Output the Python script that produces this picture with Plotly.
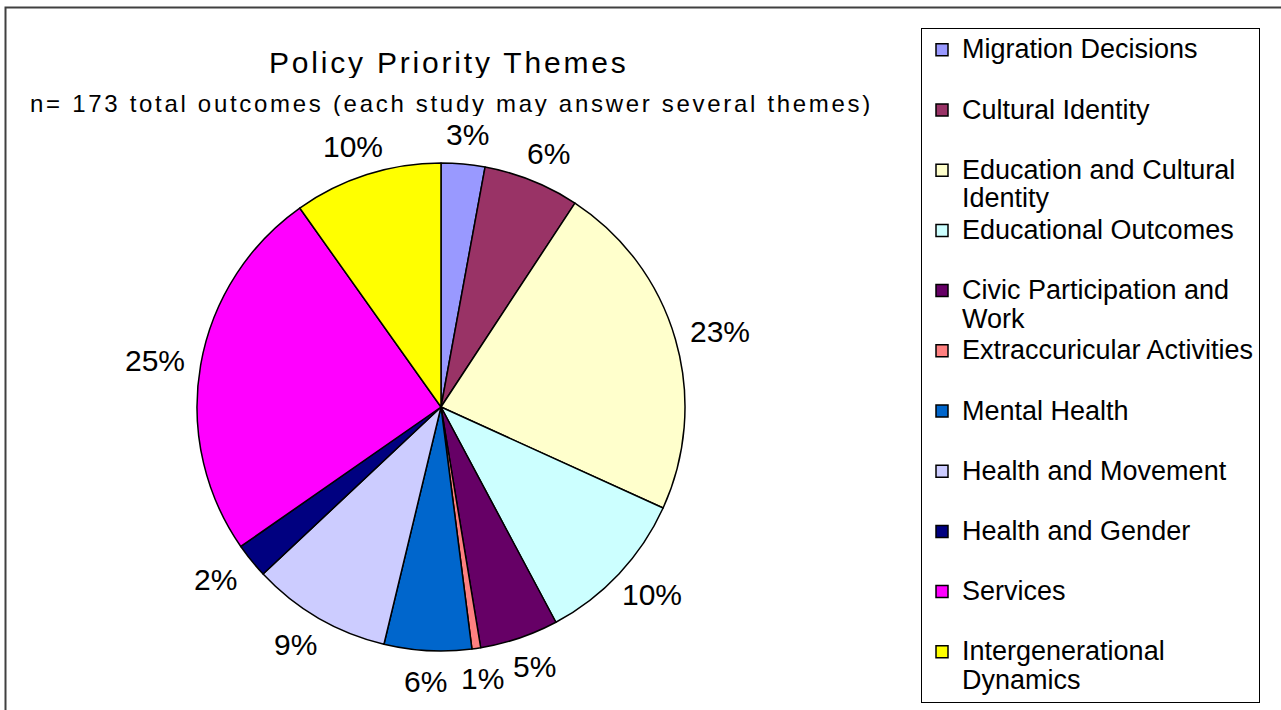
import math
import plotly.graph_objects as go

# ---- data ----
themes = [
    "Migration Decisions",
    "Cultural Identity",
    "Education and Cultural Identity",
    "Educational Outcomes",
    "Civic Participation and Work",
    "Extraccuricular Activities",
    "Mental Health",
    "Health and Movement",
    "Health and Gender",
    "Services",
    "Intergenerational Dynamics",
]
counts = [5, 11, 39, 18, 9, 1, 10, 16, 4, 43, 17]
colors = [
    "#9999FF", "#993366", "#FFFFCC", "#CCFFFF", "#660066", "#FF8080",
    "#0066CC", "#CCCCFF", "#000080", "#FF00FF", "#FFFF00",
]
# legend line breaks as in the original
legend_lines = {
    "Education and Cultural Identity": ["Education and Cultural", "Identity"],
    "Civic Participation and Work": ["Civic Participation and", "Work"],
    "Intergenerational Dynamics": ["Intergenerational", "Dynamics"],
}

title_text = "Policy Priority Themes"
subtitle_text = "n= 173 total outcomes (each study may answer several themes)"

W, H = 1281, 710
FONT = "Liberation Sans, Arial, sans-serif"

# pie geometry (pixels)
PIE_CX, PIE_CY, PIE_R = 441, 407, 244
LABEL_RX, LABEL_RY = 290, 274

dom_x = [(PIE_CX - PIE_R) / W, (PIE_CX + PIE_R) / W]
dom_y = [(H - PIE_CY - PIE_R) / H, (H - PIE_CY + PIE_R) / H]


def legend_label(name):
    lines = legend_lines.get(name, [name, " "])
    return "<br>".join(
        "<span style='font-size:27px'>%s</span>" % ln for ln in lines
    )


labels = [legend_label(t) for t in themes]

fig = go.Figure(
    go.Pie(
        labels=labels,
        values=counts,
        sort=False,
        direction="clockwise",
        rotation=0,
        marker=dict(colors=colors, line=dict(color="black", width=1.5)),
        textinfo="none",
        domain=dict(x=dom_x, y=dom_y),
        hoverinfo="label+value+percent",
    )
)

# percentage labels placed along each slice's mid-angle, outside the pie
total = sum(counts)
annotations = []
cum = 0
for c in counts:
    mid = (cum + c / 2) / total * 2 * math.pi
    cum += c
    px = PIE_CX + LABEL_RX * math.sin(mid)
    py = PIE_CY - LABEL_RY * math.cos(mid)
    annotations.append(dict(
        text="%d%%" % round(100 * c / total),
        x=px / W, y=1 - py / H, xref="paper", yref="paper",
        xanchor="center", yanchor="middle", showarrow=False,
        height=30, valign="middle",
        font=dict(family=FONT, size=30, color="black"),
    ))

annotations += [
    dict(
        text="<span style='letter-spacing:2.8px'>%s</span>" % title_text,
        x=448 / W, y=1 - 62 / H, xref="paper", yref="paper",
        xanchor="center", yanchor="middle", showarrow=False,
        height=32, valign="middle",
        font=dict(family=FONT, size=30, color="black"),
    ),
    dict(
        text="<span style='letter-spacing:2.7px'>%s</span>" % subtitle_text,
        x=451 / W, y=1 - 103 / H, xref="paper", yref="paper",
        xanchor="center", yanchor="middle", showarrow=False,
        height=26, valign="middle",
        font=dict(family=FONT, size=24, color="black"),
    ),
]

fig.update_layout(
    width=W,
    height=H,
    margin=dict(l=0, r=0, t=0, b=0),
    paper_bgcolor="white",
    plot_bgcolor="white",
    font=dict(family=FONT, color="black"),
    showlegend=True,
    legend=dict(
        x=921 / W,
        y=(H - 28) / H,
        xanchor="left",
        yanchor="top",
        bordercolor="black",
        borderwidth=1,
        bgcolor="white",
        font=dict(family=FONT, size=22, color="black"),
        valign="top",
        tracegroupgap=0,
    ),
    annotations=annotations,
    shapes=[
        dict(
            type="rect", xref="paper", yref="paper",
            x0=5.5 / W, x1=1.02, y0=-0.02, y1=1 - 7.5 / H,
            line=dict(color="#404040", width=2), layer="below",
        )
    ],
)

fig.write_html(
    "out.html",
    config={"displayModeBar": False},
    post_script="document.body.style.margin='0';document.body.style.overflow='hidden';",
)
